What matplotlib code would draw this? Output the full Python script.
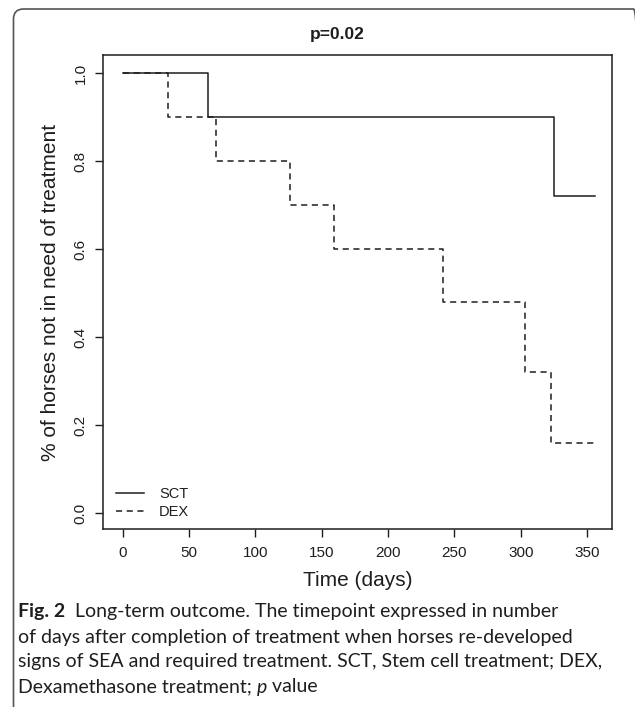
import matplotlib
matplotlib.use("Agg")
import matplotlib.pyplot as plt
from matplotlib.patches import FancyBboxPatch
from matplotlib.transforms import IdentityTransform

# survival steps
sct_time = [0, 64, 325, 356]
sct_surv = [1.0, 0.9, 0.72, 0.72]
dex_time = [0, 34, 70, 126, 159, 241, 303, 323, 356]
dex_surv = [1.0, 0.9, 0.8, 0.7, 0.6, 0.48, 0.32, 0.16, 0.16]
x_ticks = [0, 50, 100, 150, 200, 250, 300, 350]
y_ticks = [0.0, 0.2, 0.4, 0.6, 0.8, 1.0]

caption_lines = [
    ("Fig. 2", "  Long-term outcome. The timepoint expressed in number"),
    (None, "of days after completion of treatment when horses re-developed"),
    (None, "signs of SEA and required treatment. SCT, Stem cell treatment; DEX,"),
    (None, "Dexamethasone treatment; "),
]

W, H = 635, 707
plt.rcParams['font.family'] = ['Liberation Sans', 'DejaVu Sans']
ink = '#1e1e1e'

fig = plt.figure(figsize=(W / 100, H / 100), dpi=100)
ax = fig.add_axes([103 / W, 1 - 529 / H, (612 - 103) / W, (529 - 55) / H])

ax.step(sct_time, sct_surv, where='post', color=ink, lw=1.1, label='SCT')
ax.step(dex_time, dex_surv, where='post', color=ink, lw=1.1, dashes=(4, 3), label='DEX')

ax.set_xlim(-14.8, 368.7)
ax.set_ylim(-0.036, 1.041)
ax.set_xticks(x_ticks)
ax.set_yticks(y_ticks)
ax.set_yticklabels([f"{v:.1f}" for v in y_ticks], rotation=90, va='center')
ax.tick_params(direction='out', length=6, width=1, colors=ink, labelsize=11)
ax.tick_params(axis='x', pad=6)
ax.tick_params(axis='y', pad=5)
for s in ax.spines.values():
    s.set_linewidth(1.1)
    s.set_color(ink)

ax.set_xlabel('Time (days)', fontsize=15, color=ink, va='center')
ax.xaxis.set_label_coords(0.5, (529 - 580) / 474)
ax.set_ylabel('% of horses not in need of treatment', fontsize=15, color=ink, va='center')
ax.yaxis.set_label_coords((50 - 103) / 509, 0.5)
ax.set_title('p=0.02', fontsize=12.5, fontweight='bold', color=ink, y=1 + 20 / 474, va='center', pad=0)
ax.title.set_x((337 - 103) / 509)

ax.legend(loc='lower left', bbox_to_anchor=(0.0255, 0.021), frameon=False, fontsize=10.5,
          handlelength=1.95, handletextpad=1.0, labelspacing=0.3, borderpad=0, borderaxespad=0,
          labelcolor=ink)

# rounded frame around figure + caption
frame = FancyBboxPatch((13.5, -30), 630, H - 9 + 30, boxstyle="round,pad=0,rounding_size=10",
                       transform=IdentityTransform(), fill=False, ec='#555555', lw=1.2)
fig.add_artist(frame)

# caption with mixed bold / italic pieces
cap_font = ['Lato', 'DejaVu Sans']
cap_size = 14
fig.canvas.draw()
renderer = fig.canvas.get_renderer()
x0 = 18 / W
ys = [612, 637, 662, 687]
for (bold, rest), yp in zip(caption_lines, ys):
    y = 1 - yp / H
    x = x0
    if bold:
        t = fig.text(x, y, bold, fontsize=cap_size, fontweight='bold', family=cap_font, color=ink, va='center')
        x += t.get_window_extent(renderer).width / W
    t = fig.text(x, y, rest, fontsize=cap_size, family=cap_font, color=ink, va='center')
    if rest.startswith("Dexa"):
        x += t.get_window_extent(renderer).width / W
        t2 = fig.text(x, y, "p", fontsize=cap_size, family=cap_font, style='italic', color=ink, va='center')
        x += t2.get_window_extent(renderer).width / W
        fig.text(x, y, " value", fontsize=cap_size, family=cap_font, color=ink, va='center')

fig.savefig('out.png', dpi=100)
